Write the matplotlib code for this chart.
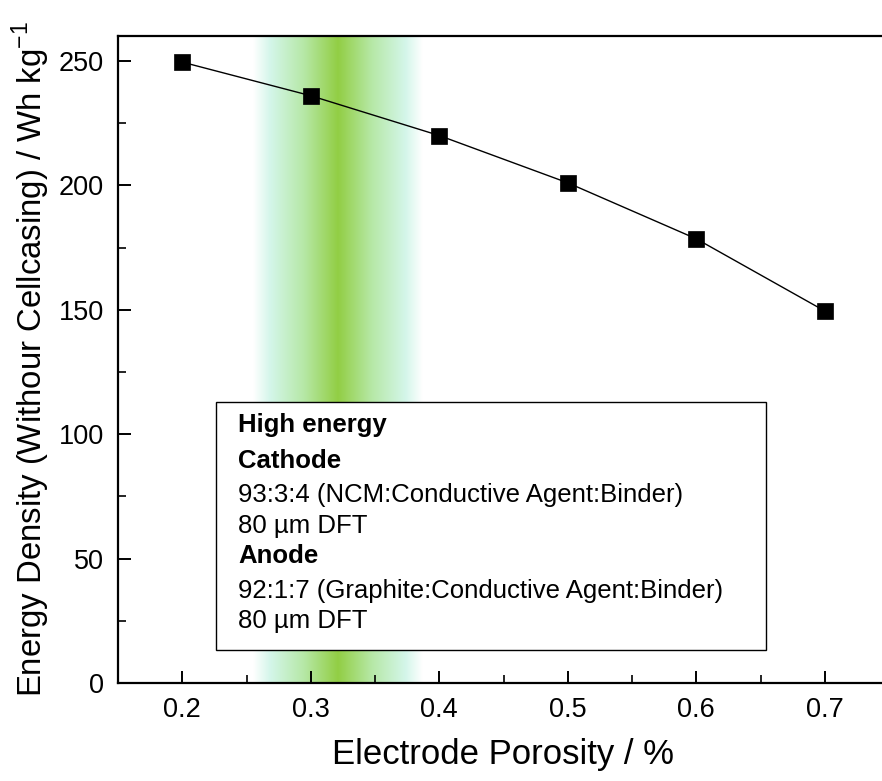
import numpy as np
import matplotlib
matplotlib.use("Agg")
import matplotlib.pyplot as plt
from matplotlib.colors import LinearSegmentedColormap
from matplotlib.patches import Rectangle
from matplotlib.ticker import MultipleLocator

plt.rcParams['font.family'] = ['Liberation Sans', 'DejaVu Sans']

porosity = [0.2, 0.3, 0.4, 0.5, 0.6, 0.7]
energy = [249.5, 236, 220, 201, 178.5, 149.5]
band_range = [0.255, 0.387]
box_lines = [
    ("High energy", True),
    ("Cathode", True),
    ("93:3:4 (NCM:Conductive Agent:Binder)", False),
    ("80 \u00b5m DFT", False),
    ("Anode", True),
    ("92:1:7 (Graphite:Conductive Agent:Binder)", False),
    ("80 \u00b5m DFT", False),
]

fig = plt.figure(figsize=(8.82, 7.81), dpi=100)
ax = fig.add_axes([118/882, 1-683/781, 771/882, (683-36)/781])
ax.set_xlim(0.15, 0.75)
ax.set_ylim(0, 260)

# gradient band
cmap = LinearSegmentedColormap.from_list('band', [
    (0.0, '#ffffff'), (0.1, '#d4f6ea'), (0.3, '#b6e8a6'),
    (0.5, '#92ce44'), (0.7, '#b6e8a6'), (0.9, '#d4f6ea'), (1.0, '#ffffff')])
grad = np.linspace(0, 1, 256).reshape(1, -1)
ax.imshow(grad, cmap=cmap, aspect='auto', extent=[band_range[0], band_range[1], 0, 260],
          zorder=0, interpolation='bicubic')

ax.plot(porosity, energy, color='black', lw=1.0, zorder=2)
ax.plot(porosity, energy, ls='none', marker='s', ms=11, mfc='black', mec='black',
        mew=0.5, zorder=3)

# text box
ax.add_patch(Rectangle((0.2263, 13.3), 0.654-0.2263, 112.9-13.3, facecolor='white',
                       edgecolor='black', lw=1.0, zorder=4))
baselines = [100.9, 86.4, 72.7, 60.3, 48.2, 34.2, 22.1]
for (txt, bold), yb in zip(box_lines, baselines):
    ax.text(0.2434, yb, txt, fontsize=18.5, fontweight='bold' if bold else 'normal',
            va='baseline', ha='left', zorder=5)

for s in ['left', 'top', 'bottom', 'right']:
    ax.spines[s].set_linewidth(1.6)

ax.xaxis.set_minor_locator(MultipleLocator(0.05))
ax.yaxis.set_major_locator(MultipleLocator(50))
ax.yaxis.set_minor_locator(MultipleLocator(25))
ax.set_xticks(porosity)
ax.set_xticklabels(['0.2', '0.3', '0.4', '0.5', '0.6', '0.7'])
ax.tick_params(which='major', direction='in', length=9, width=1.4, labelsize=19.5, pad=10)
ax.tick_params(which='minor', direction='in', length=5.5, width=1.2)
ax.tick_params(axis='x', which='both', top=False)

ax.set_xlabel('Electrode Porosity / %', fontsize=25, labelpad=11)
ax.set_ylabel('Energy Density (Withour Cellcasing) / Wh kg$^{\\mathregular{-1}}$', fontsize=23.7, labelpad=5)

fig.savefig('out.png', dpi=100)
